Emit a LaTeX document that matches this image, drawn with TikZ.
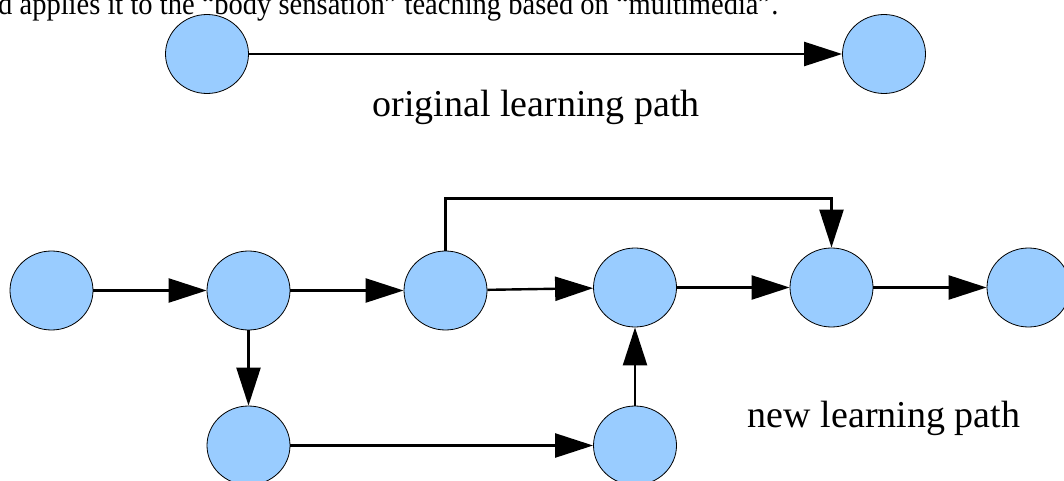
\documentclass[tikz,border=0pt]{standalone}
\usepackage{fontspec}
\setmainfont{Liberation Serif}
\usetikzlibrary{arrows.meta,shapes.geometric}

\tikzset{
  topic/.style={ellipse,draw=black,line width=0.8pt,fill=topicblue,
    minimum width=83pt,minimum height=79pt,inner sep=0pt},
  link/.style={line width=2.4pt,-{Triangle[length=38pt,width=24pt]}},
  caption/.style={font=\fontsize{38}{40}\selectfont,anchor=base,inner sep=0pt}
}
\definecolor{topicblue}{RGB}{153,204,255}

\begin{document}
\begin{tikzpicture}[x=1pt,y=-1pt]
\useasboundingbox (0,0) rectangle (1064,481);
\clip (0,0) rectangle (1064,481);
\node[anchor=base west,inner sep=0pt,font=\fontsize{31}{33}\selectfont] (intro) at (-2,15)
  {\scalebox{0.92}[1]{d applies it to the ``body sensation'' teaching based on ``multimedia''.}};
% original path
\node[topic] (o1) at (207,54) {};
\node[topic] (o2) at (884,54) {};
\draw[link] (o1) -- (o2);
\node[caption] (olabel) at (536,117) {original learning path};
% new path
\node[topic] (a) at (51.5,290.5) {};
\node[topic] (b) at (248.5,290.5) {};
\node[topic] (c) at (445.5,290.5) {};
\node[topic] (d) at (635,287.5) {};
\node[topic] (e) at (831.5,287.5) {};
\node[topic] (f) at (1028.5,287.5) {};
\node[topic] (g) at (248.5,445.5) {};
\node[topic] (h) at (635,445.5) {};
\draw[link] (a) -- (b);
\draw[link] (b) -- (c);
\draw[link] (c) -- (d);
\draw[link] (d) -- (e);
\draw[link] (e) -- (f);
\draw[link] (b) -- (g);
\draw[link] (g) -- (h);
\draw[link] (h) -- (d);
\draw[link] (c.north) -- ++(0,-52) -| (e.north);
\node[caption] (nlabel) at (884,427) {new learning path};
\end{tikzpicture}
\end{document}
